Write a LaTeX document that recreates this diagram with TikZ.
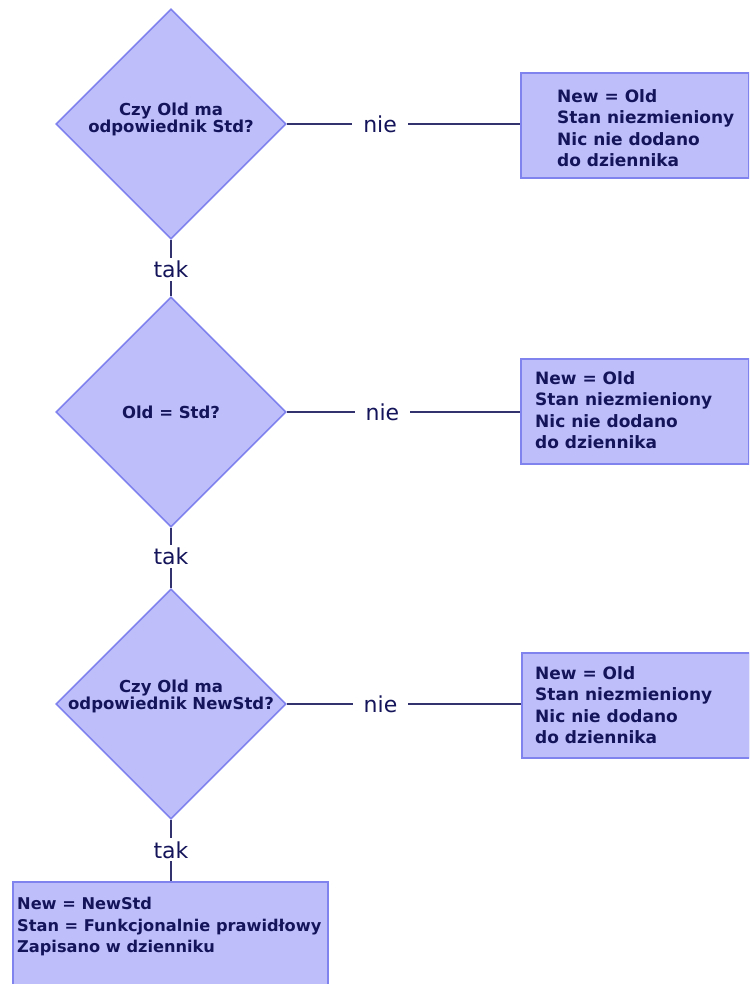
\documentclass[tikz,border=0pt]{standalone}
\usepackage{fontspec}
\setmainfont{DejaVu Sans}
\usetikzlibrary{shapes.geometric}
\definecolor{boxfill}{RGB}{189,190,250}
\definecolor{boxline}{RGB}{128,130,238}
\definecolor{ink}{RGB}{20,20,90}
\definecolor{wire}{RGB}{50,50,110}
\tikzset{
  decision/.style={diamond, draw=boxline, fill=boxfill, line width=1.6pt,
    minimum width=230pt, minimum height=230pt, inner sep=0pt},
  dtext/.style={text=ink, font=\fontsize{16.5}{15.8}\selectfont\bfseries, align=center, inner sep=0pt},
  outcome/.style={rectangle, draw=boxline, fill=boxfill, line width=1.6pt,
    minimum width=228pt, minimum height=105pt, inner sep=0pt, anchor=north west},
  otext/.style={text=ink, font=\fontsize{17}{21.5}\selectfont\bfseries, align=left, inner sep=0pt, anchor=west},
  wirel/.style={draw=wire, line width=1.3pt},
  answer/.style={text=ink, fill=white, font=\fontsize{22}{24}\selectfont, inner xsep=11pt, inner ysep=3pt}
}
\begin{document}
\begin{tikzpicture}[x=1pt,y=-1pt]
\clip (0,0) rectangle (749,984);
\fill[white] (0,0) rectangle (749,984);

% decisions
\node[decision] (d1) at (171,124) {};
\node[dtext] (t1) at (171,119) {Czy Old ma\\odpowiednik Std?};
\node[decision] (d2) at (171,412) {};
\node[dtext] (t2) at (171,412) {Old = Std?};
\node[decision] (d3) at (171,704) {};
\node[dtext] (t3) at (171,696) {Czy Old ma\\odpowiednik NewStd?};

% outcomes
\node[outcome] (b1) at (520,72) {};
\node[otext] (o1) at (557,128) {New = Old\\Stan niezmieniony\\Nic nie dodano\\do dziennika};
\node[outcome] (b2) at (520,358) {};
\node[otext] (o2) at (535,410) {New = Old\\Stan niezmieniony\\Nic nie dodano\\do dziennika};
\node[outcome] (b3) at (521,652) {};
\node[otext] (o3) at (535,705) {New = Old\\Stan niezmieniony\\Nic nie dodano\\do dziennika};
\node[outcome, minimum width=315pt, minimum height=120pt] (b4) at (12,881) {};
\node[otext, font=\fontsize{16.2}{21.5}\selectfont\bfseries] (o4) at (17,927) {New = NewStd\\Stan = Funkcjonalnie prawidłowy\\Zapisano w dzienniku};

% connectors
\draw[wirel] (d1.east) -- node[answer, pos=0.40] (n1) {nie} (b1.west |- d1.east);
\draw[wirel] (d2.east) -- node[answer, pos=0.41] (n2) {nie} (b2.west |- d2.east);
\draw[wirel] (d3.east) -- node[answer, pos=0.40] (n3) {nie} (b3.west |- d3.east);
\draw[wirel] (d1.south) -- node[answer, pos=0.53, inner xsep=2pt] (y1) {tak} (d2.north);
\draw[wirel] (d2.south) -- node[answer, pos=0.47, inner xsep=2pt] (y2) {tak} (d3.north);
\draw[wirel] (d3.south) -- node[answer, pos=0.49, inner xsep=2pt] (y3) {tak} (b4.north -| d3.south);
\end{tikzpicture}
\end{document}
